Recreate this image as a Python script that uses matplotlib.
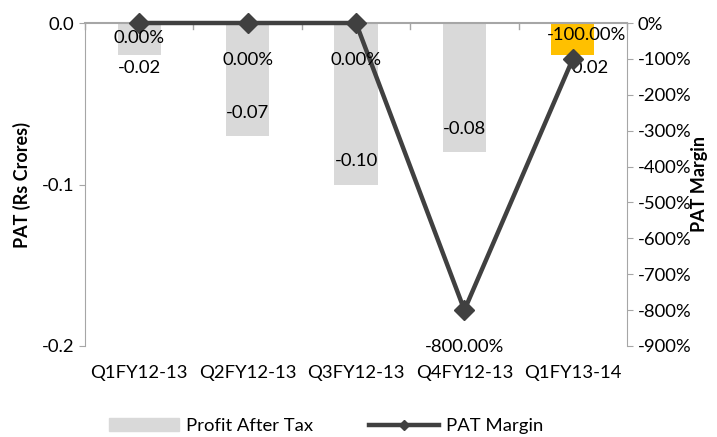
import matplotlib.pyplot as plt
from matplotlib.patches import Patch
from matplotlib.lines import Line2D

plt.rcParams['font.family'] = ['Lato', 'DejaVu Sans']

quarters = ['Q1FY12-13', 'Q2FY12-13', 'Q3FY12-13', 'Q4FY12-13', 'Q1FY13-14']
pat = [-0.02, -0.07, -0.10, -0.08, -0.02]
margin = [0.0, 0.0, 0.0, -800.0, -100.0]
pat_labels = ['-0.02', '-0.07', '-0.10', '-0.08', '-0.02']
margin_labels = ['0.00%', '0.00%', '0.00%', '-800.00%', '-100.00%']

bar_colors = ['#D9D9D9', '#D9D9D9', '#D9D9D9', '#D9D9D9', '#FFC000']
line_color = '#404040'
spine_color = '#A6A6A6'
fs = 13.3

fig = plt.figure(figsize=(7.17, 4.37), dpi=100)
ax = fig.add_axes([85 / 717, 1 - 346 / 437, 542 / 717, 323 / 437])
x = list(range(len(quarters)))

ax.bar(x, pat, width=0.4, color=bar_colors, zorder=1)
ax.set_xlim(-0.5, len(quarters) - 0.5)
ax.set_ylim(-0.2, 0)
ax.set_yticks([0, -0.1, -0.2])
ax.set_yticklabels(['0.0', '-0.1', '-0.2'])
ax.set_xticks(x)
ax.set_xticklabels(quarters)
ax.tick_params(axis='x', length=0, labelsize=fs, pad=14)
ax.tick_params(axis='y', length=4, color=spine_color, labelsize=fs)
ax.set_ylabel('PAT (Rs Crores)', fontsize=13, fontweight='bold', labelpad=8)

for s in ['bottom', 'right']:
    ax.spines[s].set_visible(False)
ax.spines['left'].set_color(spine_color)
ax.spines['top'].set_color(spine_color)
ax.spines['top'].set_linewidth(1.5)

# category boundary ticks along the zero line
for b in [i + 0.5 for i in range(-1, len(quarters))]:
    ax.plot([b, b], [0, -0.004], color=spine_color, lw=1, clip_on=False, zorder=2)

# bar value labels
bar_off = [-13, 23, 24, 23, -13]
bar_dx = [0, 0, 0, 0, 15]
for xi, v, lab, dy, dx in zip(x, pat, pat_labels, bar_off, bar_dx):
    ax.annotate(lab, (xi, v), xytext=(dx, dy), textcoords='offset pixels',
                ha='center', va='center', fontsize=fs, zorder=5)

ax2 = ax.twinx()
ax2.plot(x, margin, color=line_color, lw=3.2, marker='D', markersize=10,
         zorder=3, clip_on=False)
ax2.set_ylim(-900, 0)
ax2.set_yticks(list(range(0, -1000, -100)))
ax2.set_yticklabels([f'{v}%' for v in range(0, -1000, -100)])
ax2.tick_params(axis='y', length=4, color=spine_color, labelsize=fs)
ax2.set_ylabel('PAT Margin', fontsize=13, fontweight='bold', labelpad=0)
for s in ['bottom', 'left', 'top']:
    ax2.spines[s].set_visible(False)
ax2.spines['right'].set_color(spine_color)

# line value labels
line_off = [-15, -37, -37, -37, 24]
line_dx = [0, 0, 0, 0, 14]
for xi, v, lab, dy, dx in zip(x, margin, margin_labels, line_off, line_dx):
    ax2.annotate(lab, (xi, v), xytext=(dx, dy), textcoords='offset pixels',
                 ha='center', va='center', fontsize=fs, zorder=6)

handles = [Patch(color='#D9D9D9'),
           Line2D([0], [0], color=line_color, lw=3.2, marker='D', markersize=5)]
fig.legend(handles, ['Profit After Tax', 'PAT Margin'], loc='center',
           bbox_to_anchor=(0.455, 0.025), ncol=2, frameon=False, fontsize=fs,
           handlelength=3.8, handletextpad=0.4, columnspacing=3.0)

fig.savefig('out.png', dpi=100)
